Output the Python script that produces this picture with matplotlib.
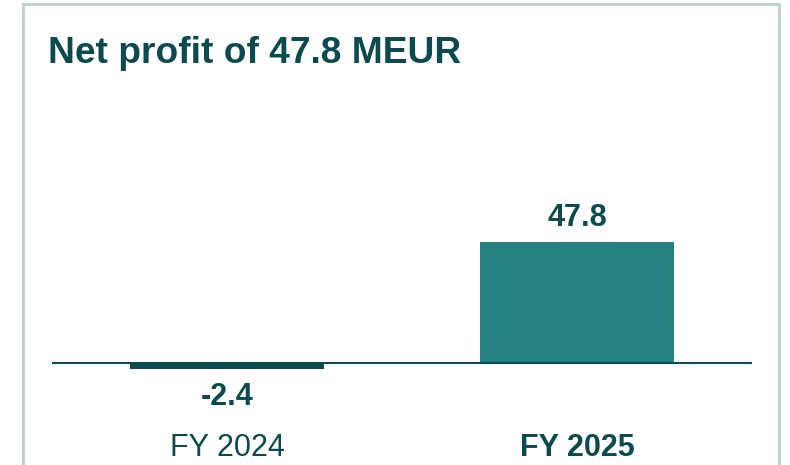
import matplotlib
matplotlib.use("Agg")
import matplotlib.pyplot as plt
from matplotlib.patches import Rectangle

# data
years = ["FY 2024", "FY 2025"]
net_profit = [-2.4, 47.8]
bar_colors = ["#0b4a4f", "#268080"]
title = "Net profit of 47.8 MEUR"

dark = "#0b4a4f"
W, H = 790, 465

plt.rcParams['font.family'] = ['Liberation Sans', 'DejaVu Sans']

fig = plt.figure(figsize=(W / 100, H / 100), dpi=100)

# frame around the card (open at the bottom)
fig.patches.append(Rectangle((23 / W, -0.1), (779 - 23) / W, 1.1 - 4 / H,
                             transform=fig.transFigure, fill=False,
                             edgecolor="#b9d0d3", linewidth=2.0))

fig.text(48 / W, 1 - 63 / H, title, fontsize=26.7, fontweight="bold",
         color=dark, va="baseline", ha="left")

# axes placed in pixels: x from 52 to 752, y from 200 to 420
ax = fig.add_axes([52 / W, 1 - 420 / H, 700 / W, 220 / H])
scale = 121 / 47.8  # px per unit
ax.set_xlim(-0.5, 1.5)
ax.set_ylim(-(420 - 363) / scale, (363 - 200) / scale)

x = range(len(years))
ax.bar(x, net_profit, width=0.557, color=bar_colors, zorder=2)
ax.axhline(0, color=dark, linewidth=1.5, zorder=3)

for xi, v in zip(x, net_profit):
    off = 17.3 if v > 0 else -20
    ax.annotate(f"{v:.1f}", (xi, v), xytext=(0, off), textcoords="offset points",
                ha="center", va="center", fontsize=22, fontweight="bold", color=dark)

ax.set_xticks(list(x))
ax.set_xticklabels(years, fontsize=22, color=dark)
ax.get_xticklabels()[1].set_fontweight("bold")
ax.tick_params(axis="x", length=0, pad=9)
ax.set_yticks([])
for s in ax.spines.values():
    s.set_visible(False)

fig.savefig("out.png", dpi=100)
